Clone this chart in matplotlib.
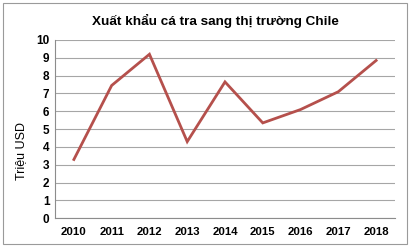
import matplotlib
matplotlib.use("Agg")
import matplotlib.pyplot as plt
from matplotlib.patches import Rectangle

years = ["2010", "2011", "2012", "2013", "2014", "2015", "2016", "2017", "2018"]
values = [3.3, 7.45, 9.2, 4.3, 7.65, 5.35, 6.1, 7.1, 8.85]
yticks = [0, 1, 2, 3, 4, 5, 6, 7, 8, 9, 10]

plt.rcParams['font.family'] = ['Liberation Sans', 'DejaVu Sans']

W, H = 410, 249
fig = plt.figure(figsize=(W / 100, H / 100), dpi=100)
fig.patch.set_facecolor('white')
fig.patches.append(Rectangle((3 / W, 1 - 244 / H), 404 / W, 241 / H, transform=fig.transFigure,
                             fill=False, edgecolor='#9a9a9a', linewidth=0.8))

ax = fig.add_axes([55 / W, 1 - 218.3 / H, 340 / W, 178.3 / H])
x = list(range(len(years)))
ax.plot(x, values, color='#B5504C', linewidth=2.0, solid_joinstyle='miter')
ax.set_xlim(-0.5, len(years) - 0.5)
ax.set_ylim(0, 10)
ax.set_yticks(yticks)
ax.set_yticklabels([str(t) for t in yticks], fontweight='bold', fontsize=8.5)
ax.set_xticks(x)
ax.set_xticklabels(years, fontweight='bold', fontsize=8.2)
ax.tick_params(length=0, pad=4)
ax.tick_params(axis='x', pad=6)
ax.grid(axis='y', color='#a6a6a6', linewidth=0.8)
ax.set_axisbelow(True)
for s in ['top', 'right']:
    ax.spines[s].set_visible(False)
for s in ['left', 'bottom']:
    ax.spines[s].set_color('#8c8c8c')
    ax.spines[s].set_linewidth(0.8)
ax.set_ylabel('Triệu USD', fontsize=9)
ax.yaxis.set_label_coords(-0.083, 0.38)

fig.text(215 / W, 1 - 21 / H, 'Xuất khẩu cá tra sang thị trường Chile', ha='center', va='center',
         fontsize=9.7, fontweight='bold')

fig.savefig('out.png', dpi=100)
